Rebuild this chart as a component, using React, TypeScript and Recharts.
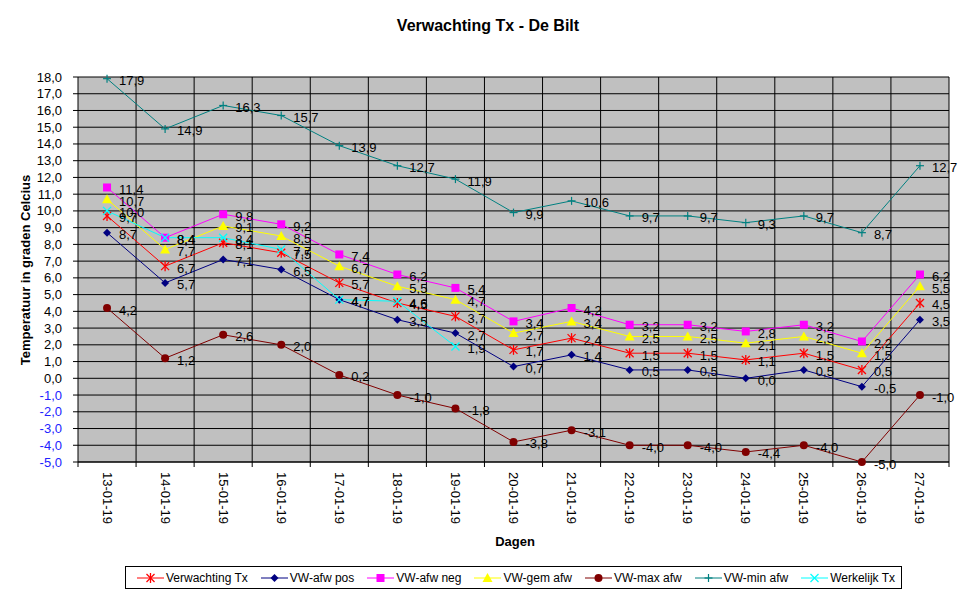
import React from 'react';
import { CartesianGrid, LabelList, Line, LineChart, XAxis, YAxis } from 'recharts';

const dates = [
  '13-01-19', '14-01-19', '15-01-19', '16-01-19', '17-01-19', '18-01-19', '19-01-19', '20-01-19',
  '21-01-19', '22-01-19', '23-01-19', '24-01-19', '25-01-19', '26-01-19', '27-01-19',
];
const verwachtingTx = [9.7, 6.7, 8.1, 7.5, 5.7, 4.5, 3.7, 1.7, 2.4, 1.5, 1.5, 1.1, 1.5, 0.5, 4.5];
const afwPos = [8.7, 5.7, 7.1, 6.5, 4.7, 3.5, 2.7, 0.7, 1.4, 0.5, 0.5, 0.0, 0.5, -0.5, 3.5];
const afwNeg = [11.4, 8.4, 9.8, 9.2, 7.4, 6.2, 5.4, 3.4, 4.2, 3.2, 3.2, 2.8, 3.2, 2.2, 6.2];
const gemAfw = [10.7, 7.7, 9.1, 8.5, 6.7, 5.5, 4.7, 2.7, 3.4, 2.5, 2.5, 2.1, 2.5, 1.5, 5.5];
const maxAfw = [4.2, 1.2, 2.6, 2.0, 0.2, -1.0, -1.8, -3.8, -3.1, -4.0, -4.0, -4.4, -4.0, -5.0, -1.0];
const minAfw = [17.9, 14.9, 16.3, 15.7, 13.9, 12.7, 11.9, 9.9, 10.6, 9.7, 9.7, 9.3, 9.7, 8.7, 12.7];
const werkelijkTx = [10.0, 8.4, 8.4, 7.7, 4.7, 4.6, 1.9, null, null, null, null, null, null, null, null];

const yTicks = [-5, -4, -3, -2, -1, 0, 1, 2, 3, 4, 5, 6, 7, 8, 9, 10, 11, 12, 13, 14, 15, 16, 17, 18];

const series = [
  { key: 'verwachting', name: 'Verwachting Tx', color: '#FF0000', shape: 'star', values: verwachtingTx },
  { key: 'afwPos', name: 'VW-afw pos', color: '#000080', shape: 'diamond', values: afwPos },
  { key: 'afwNeg', name: 'VW-afw neg', color: '#FF00FF', shape: 'square', values: afwNeg },
  { key: 'gemAfw', name: 'VW-gem afw', color: '#FFFF00', shape: 'triangle', values: gemAfw },
  { key: 'maxAfw', name: 'VW-max afw', color: '#800000', shape: 'circle', values: maxAfw },
  { key: 'minAfw', name: 'VW-min afw', color: '#008080', shape: 'plus', values: minAfw },
  { key: 'werkelijk', name: 'Werkelijk Tx', color: '#00FFFF', shape: 'cross', values: werkelijkTx },
];

const data = dates.map((date, i) => {
  const row: Record<string, any> = { date };
  series.forEach((s) => (row[s.key] = s.values[i]));
  return row;
});

const FONT = '"Liberation Sans", Arial, sans-serif';
const PLOT_LEFT = 78;
const PLOT_RIGHT = 949;
const PLOT_BOTTOM = 462;
const BAND = (PLOT_RIGHT - PLOT_LEFT) / dates.length;

const fmt = (v: number) => v.toFixed(1).replace('.', ',');

function Marker({ shape, x, y, color }: { shape: string; x: number; y: number; color: string }) {
  switch (shape) {
    case 'star':
      return (
        <g stroke={color} strokeWidth={1.3}>
          <line x1={x - 4} y1={y - 4} x2={x + 4} y2={y + 4} />
          <line x1={x - 4} y1={y + 4} x2={x + 4} y2={y - 4} />
          <line x1={x} y1={y - 5} x2={x} y2={y + 5} />
        </g>
      );
    case 'diamond':
      return <polygon points={`${x},${y - 4} ${x + 4},${y} ${x},${y + 4} ${x - 4},${y}`} fill={color} />;
    case 'square':
      return <rect x={x - 4} y={y - 4} width={8} height={8} fill={color} />;
    case 'triangle':
      return <polygon points={`${x},${y - 5} ${x + 5},${y + 4} ${x - 5},${y + 4}`} fill={color} />;
    case 'circle':
      return <circle cx={x} cy={y} r={4} fill={color} />;
    case 'plus':
      return (
        <g stroke={color} strokeWidth={1.2}>
          <line x1={x - 4} y1={y} x2={x + 4} y2={y} />
          <line x1={x} y1={y - 4} x2={x} y2={y + 4} />
        </g>
      );
    default:
      return (
        <g stroke={color} strokeWidth={1.3}>
          <line x1={x - 4} y1={y - 4} x2={x + 4} y2={y + 4} />
          <line x1={x - 4} y1={y + 4} x2={x + 4} y2={y - 4} />
        </g>
      );
  }
}

const makeDot = (shape: string, color: string) => (props: any) => {
  const { cx, cy, index, value } = props;
  if (cx == null || cy == null || value == null) return <g key={`d${index}`} />;
  return (
    <g key={`d${index}`}>
      <Marker shape={shape} x={cx} y={cy} color={color} />
    </g>
  );
};

const renderLabel = (props: any) => {
  const { x, y, value, index } = props;
  if (value == null || x == null || y == null) return null;
  return (
    <text key={`l${index}`} x={x + 12} y={y + 2} dominantBaseline="central" fontSize={13} fontFamily={FONT} fill="#000">
      {fmt(Number(value))}
    </text>
  );
};

const XTick = (props: any) => {
  const { x, y, payload, index } = props;
  const last = index === dates.length - 1;
  return (
    <g>
      <line x1={x - BAND / 2} y1={PLOT_BOTTOM} x2={x - BAND / 2} y2={PLOT_BOTTOM + 5} stroke="#000" />
      {last && <line x1={x + BAND / 2} y1={PLOT_BOTTOM} x2={x + BAND / 2} y2={PLOT_BOTTOM + 5} stroke="#000" />}
      <text
        transform={`translate(${x},${y + 2}) rotate(90)`}
        textAnchor="start"
        dominantBaseline="central"
        fontSize={13}
        fontFamily={FONT}
        fill="#000"
      >
        {payload.value}
      </text>
    </g>
  );
};

const YTick = (props: any) => {
  const { x, y, payload } = props;
  const v = Number(payload.value);
  return (
    <text x={x - 9} y={y} textAnchor="end" dominantBaseline="central" fontSize={13} fontFamily={FONT} fill={v < 0 ? '#2222FF' : '#000'}>
      {fmt(v)}
    </text>
  );
};

const Legend = () => (
  <div
    style={{
      position: 'absolute',
      left: 125,
      top: 566,
      width: 777,
      height: 23,
      boxSizing: 'border-box',
      border: '1px solid #000',
      background: '#fff',
      display: 'flex',
      alignItems: 'center',
      paddingLeft: 11,
      gap: 13,
      fontFamily: FONT,
      fontSize: 12,
    }}
  >
    {series.map((s) => (
      <div key={s.key} style={{ display: 'flex', alignItems: 'center' }}>
        <svg width={27} height={12} style={{ marginRight: 2 }}>
          <line x1={0} y1={6} x2={27} y2={6} stroke={s.color} />
          <Marker shape={s.shape} x={13.5} y={6} color={s.color} />
        </svg>
        <span>{s.name}</span>
      </div>
    ))}
  </div>
);

export default function App() {
  return (
    <div style={{ position: 'absolute', left: 0, top: 0, width: 976, height: 599, background: '#fff', fontFamily: FONT }}>
      <div style={{ position: 'absolute', left: 0, width: 976, top: 17, textAlign: 'center', fontSize: 16, fontWeight: 'bold' }}>
        Verwachting Tx - De Bilt
      </div>
      <LineChart width={976} height={599} data={data} margin={{ top: 77, right: 27, left: 18, bottom: 77 }}>
        <CartesianGrid
          stroke="#000"
          fill="#C0C0C0"
          fillOpacity={1}
          verticalCoordinatesGenerator={({ offset }: any) =>
            dates.map((_, i) => offset.left + ((i + 1) * offset.width) / dates.length)
          }
        />
        <XAxis
          dataKey="date"
          interval={0}
          height={60}
          padding={{ left: BAND / 2, right: BAND / 2 }}
          tickLine={false}
          axisLine={{ stroke: '#000' }}
          tick={<XTick />}
        />
        <YAxis
          width={60}
          domain={[-5, 18]}
          ticks={yTicks}
          interval={0}
          tickSize={5}
          tickLine={{ stroke: '#000' }}
          axisLine={{ stroke: '#000' }}
          tick={<YTick />}
        />
        {series.map((s) => (
          <Line
            key={s.key}
            dataKey={s.key}
            name={s.name}
            type="linear"
            stroke={s.color}
            strokeWidth={1}
            dot={makeDot(s.shape, s.color)}
            activeDot={false}
            isAnimationActive={false}
          >
            <LabelList dataKey={s.key} content={renderLabel} />
          </Line>
        ))}
      </LineChart>
      <div
        style={{
          position: 'absolute',
          left: 25,
          top: 270,
          transform: 'translate(-50%, -50%) rotate(-90deg)',
          whiteSpace: 'nowrap',
          fontSize: 13,
          fontWeight: 'bold',
        }}
      >
        Temperatuur in graden Celcius
      </div>
      <div style={{ position: 'absolute', left: 515, top: 541, transform: 'translate(-50%, -50%)', fontSize: 13, fontWeight: 'bold' }}>
        Dagen
      </div>
      <Legend />
    </div>
  );
}
